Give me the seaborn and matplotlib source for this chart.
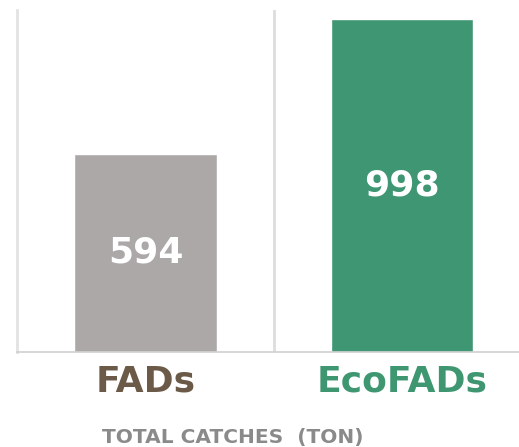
import pandas as pd
import matplotlib.pyplot as plt
import seaborn as sns

# Datos
categorias = ['FADs', 'EcoFADs']
capturas = [594, 998]
colores_barras = ['#ADA8A8', '#3E9673']
colores_texto = ['#6B5A48', '#3F9772']

df = pd.DataFrame({'tipo': categorias, 'capturas': capturas})

sns.set_style('white')
plt.rcParams['font.family'] = ['DejaVu Sans']

fig = plt.figure(figsize=(5.19, 4.47), dpi=100)
ax = fig.add_axes([0.033, 0.2125, 0.967, 0.765])

sns.barplot(data=df, x='tipo', y='capturas', hue='tipo', palette=colores_barras,
            width=0.555, legend=False, ax=ax, saturation=1)

# Valores dentro de las barras
for p in ax.patches:
    h = p.get_height()
    ax.text(p.get_x() + p.get_width() / 2, h / 2, f'{int(h)}',
            ha='center', va='center', fontsize=26, fontweight='bold', color='white')

ax.set_xlim(-0.5, 1.455)
ax.set_ylim(0, 1025)
ax.axvline(0.5, color='#DDDDDD', lw=2, zorder=0)

for s in ['top', 'right']:
    ax.spines[s].set_visible(False)
ax.spines['left'].set_color('#E2E2E2')
ax.spines['left'].set_linewidth(2)
ax.spines['bottom'].set_color('#D0D0D0')
ax.spines['bottom'].set_linewidth(1.2)

ax.set_yticks([])
ax.set_ylabel('')
ax.set_xlabel('')
ax.tick_params(axis='x', length=0, pad=9)
ax.set_xticks([0, 1])
ax.set_xticklabels(categorias, fontsize=26, fontweight='bold')
for lbl, c in zip(ax.get_xticklabels(), colores_texto):
    lbl.set_color(c)

fig.text(233 / 519, 1 - 437 / 447, 'TOTAL CATCHES  (TON)', ha='center', va='center',
         fontsize=14.5, fontweight='bold', color='#8A8A8A')

plt.savefig('out.png', dpi=100)
